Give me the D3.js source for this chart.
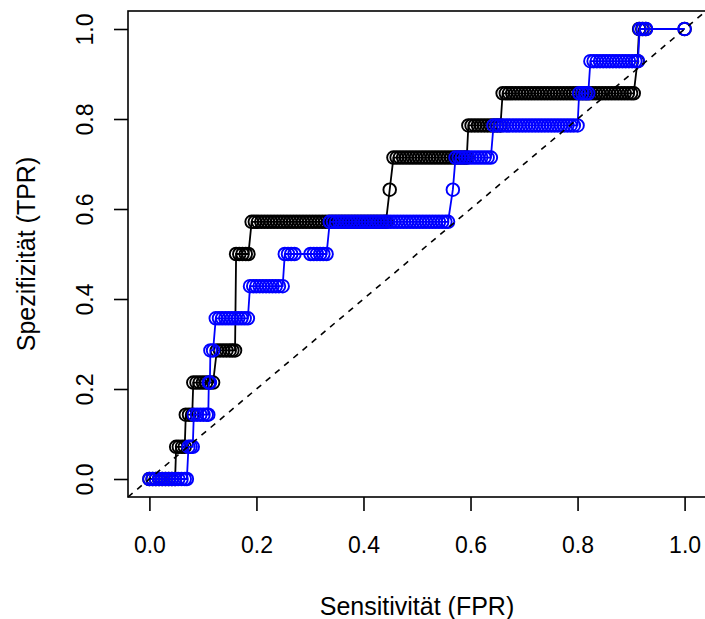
<!DOCTYPE html>
<html>
<head>
<meta charset="utf-8">
<script src="https://cdn.jsdelivr.net/npm/d3@7"></script>
<style>
  body { margin: 0; background: #fff; }
  text { font-family: "Liberation Sans", Arial, sans-serif; }
</style>
</head>
<body>
<div id="roc"></div>
<script>
var w = 705;
var h = 619;

// TPR levels (14 positives)
var tprSteps = [0, 0.0714, 0.1429, 0.2143, 0.2857, 0.3571, 0.4286, 0.5,
                0.5714, 0.6429, 0.7143, 0.7857, 0.8571, 0.9286, 1];

// FPR values of the points, one list per TPR level
var fprBlack = [
  [0, 0.006, 0.012, 0.018, 0.024, 0.03, 0.036, 0.042, 0.048],
  [0.05, 0.055, 0.061, 0.066],
  [0.068, 0.074, 0.08],
  [0.082, 0.088, 0.094, 0.1, 0.106, 0.112, 0.119],
  [0.126, 0.132, 0.138, 0.144, 0.15, 0.155, 0.16],
  [],
  [],
  [0.162, 0.168, 0.174, 0.18, 0.185],
  [0.191, 0.197, 0.203, 0.209, 0.215, 0.221, 0.227, 0.233, 0.239, 0.245,
   0.251, 0.257, 0.263, 0.269, 0.275, 0.281, 0.287, 0.293, 0.299, 0.305,
   0.311, 0.317, 0.323, 0.329, 0.335, 0.341, 0.347, 0.353, 0.359, 0.365,
   0.371, 0.377, 0.383, 0.389, 0.395, 0.401, 0.407, 0.413, 0.419, 0.425,
   0.431, 0.437, 0.442],
  [0.449],
  [0.456, 0.462, 0.468, 0.474, 0.48, 0.486, 0.492, 0.498, 0.504, 0.51,
   0.516, 0.522, 0.528, 0.534, 0.54, 0.546, 0.552, 0.558, 0.564, 0.57,
   0.576, 0.582, 0.588, 0.593],
  [0.596, 0.602, 0.608, 0.614, 0.62, 0.626, 0.632, 0.638, 0.644, 0.65, 0.656],
  [0.66, 0.666, 0.672, 0.678, 0.684, 0.69, 0.696, 0.702, 0.708, 0.714,
   0.72, 0.726, 0.732, 0.738, 0.744, 0.75, 0.756, 0.762, 0.768, 0.774,
   0.78, 0.786, 0.792, 0.798, 0.804, 0.81, 0.816, 0.822, 0.828, 0.834,
   0.84, 0.846, 0.852, 0.858, 0.864, 0.87, 0.876, 0.882, 0.888, 0.894,
   0.9, 0.905],
  [0.912],
  [0.915, 0.921, 0.927, 1]
];

var fprBlue = [
  [0, 0.006, 0.012, 0.018, 0.024, 0.03, 0.036, 0.042, 0.048, 0.054,
   0.06, 0.066, 0.07],
  [0.073, 0.077, 0.081],
  [0.083, 0.089, 0.095, 0.101, 0.107, 0.11],
  [0.111, 0.113],
  [0.114, 0.119],
  [0.124, 0.13, 0.136, 0.142, 0.148, 0.154, 0.16, 0.166, 0.172, 0.178, 0.184],
  [0.188, 0.194, 0.2, 0.206, 0.212, 0.218, 0.224, 0.23, 0.236, 0.242, 0.249],
  [0.253, 0.259, 0.265, 0.271, 0.301, 0.307, 0.313, 0.319, 0.325, 0.331],
  [0.337, 0.343, 0.349, 0.355, 0.361, 0.367, 0.373, 0.379, 0.385, 0.391,
   0.397, 0.403, 0.409, 0.415, 0.421, 0.427, 0.433, 0.439, 0.445, 0.451,
   0.457, 0.463, 0.469, 0.475, 0.481, 0.487, 0.493, 0.499, 0.505, 0.511,
   0.517, 0.523, 0.529, 0.535, 0.541, 0.547, 0.553, 0.558],
  [0.567],
  [0.572, 0.578, 0.584, 0.59, 0.596, 0.602, 0.608, 0.614, 0.62, 0.626,
   0.632, 0.638],
  [0.643, 0.649, 0.655, 0.661, 0.667, 0.673, 0.679, 0.685, 0.691, 0.697,
   0.703, 0.709, 0.715, 0.721, 0.727, 0.733, 0.739, 0.745, 0.751, 0.757,
   0.763, 0.769, 0.775, 0.781, 0.787, 0.793, 0.8],
  [0.803, 0.809, 0.815, 0.82],
  [0.824, 0.83, 0.836, 0.842, 0.848, 0.854, 0.86, 0.866, 0.872, 0.878,
   0.884, 0.89, 0.896, 0.902, 0.908, 0.913],
  [0.916, 0.922, 0.928, 1]
];

var tickValues = [0, 0.2, 0.4, 0.6, 0.8, 1];
var xLabel = "Sensitivität (FPR)";
var yLabel = "Spezifizität (TPR)";

// plot region (R style box, 4% padding on both axes)
var box = { left: 128, right: 706, top: 11, bottom: 497 };

var xScale = d3.scaleLinear()
        .domain([-0.04, 1.04])
        .range([box.left, box.right]);

var yScale = d3.scaleLinear()
        .domain([-0.04, 1.04])
        .range([box.bottom, box.top]);

function toPoints(fprs) {
  var pts = [];
  fprs.forEach(function(list, i) {
    list.forEach(function(f) { pts.push([f, tprSteps[i]]); });
  });
  return pts;
}

var svg = d3.select("#roc")
      .append("svg")
      .attr("width", w)
      .attr("height", h);

svg.append("rect")
   .attr("width", w)
   .attr("height", h)
   .attr("fill", "#fff");

var fontSize = 23;
var titleSize = 25;

// x axis
var xAxis = svg.append("g")
   .attr("transform", "translate(0," + box.bottom + ")")
   .call(d3.axisBottom(xScale)
          .tickValues(tickValues)
          .tickSize(14)
          .tickFormat(d3.format(".1f")));
xAxis.select(".domain").remove();
xAxis.selectAll("line").attr("stroke", "#000").attr("stroke-width", 1.6);
xAxis.selectAll("text")
   .attr("font-size", fontSize)
   .attr("font-family", "'Liberation Sans', Arial, sans-serif")
   .attr("fill", "#000")
   .attr("dy", null)
   .attr("y", 56);

// y axis
var yAxis = svg.append("g")
   .attr("transform", "translate(" + box.left + ",0)")
   .call(d3.axisLeft(yScale)
          .tickValues(tickValues)
          .tickSize(14)
          .tickFormat(d3.format(".1f")));
yAxis.select(".domain").remove();
yAxis.selectAll("line").attr("stroke", "#000").attr("stroke-width", 1.6);
yAxis.selectAll("text")
   .attr("font-size", fontSize)
   .attr("font-family", "'Liberation Sans', Arial, sans-serif")
   .attr("fill", "#000")
   .attr("x", null)
   .attr("dy", null)
   .attr("text-anchor", "middle")
   .attr("transform", "translate(-35,0) rotate(-90)");

// axis titles
svg.append("text")
   .attr("x", (box.left + box.right) / 2)
   .attr("y", 615)
   .attr("text-anchor", "middle")
   .attr("font-size", titleSize)
   .text(xLabel);

svg.append("text")
   .attr("transform", "translate(35," + ((box.top + box.bottom) / 2) + ") rotate(-90)")
   .attr("text-anchor", "middle")
   .attr("font-size", titleSize)
   .text(yLabel);

// curves
var line = d3.line()
      .x(function(d) { return xScale(d[0]); })
      .y(function(d) { return yScale(d[1]); });

function drawSeries(fprs, colour) {
  var pts = toPoints(fprs);
  svg.append("path")
     .datum(pts)
     .attr("d", line)
     .attr("fill", "none")
     .attr("stroke", colour)
     .attr("stroke-width", 1.8);
  svg.append("g")
     .selectAll("circle")
     .data(pts)
     .enter()
     .append("circle")
     .attr("cx", function(d) { return xScale(d[0]); })
     .attr("cy", function(d) { return yScale(d[1]); })
     .attr("r", 6.3)
     .attr("fill", "none")
     .attr("stroke", colour)
     .attr("stroke-width", 1.9);
}

drawSeries(fprBlack, "#000");
drawSeries(fprBlue, "#0000ff");

// diagonal reference line
svg.append("line")
   .attr("x1", xScale(-0.04))
   .attr("y1", yScale(-0.04))
   .attr("x2", xScale(1.04))
   .attr("y2", yScale(1.04))
   .attr("stroke", "#000")
   .attr("stroke-width", 1.6)
   .attr("stroke-dasharray", "6,6");

// box
svg.append("rect")
   .attr("x", box.left)
   .attr("y", box.top)
   .attr("width", box.right - box.left)
   .attr("height", box.bottom - box.top)
   .attr("fill", "none")
   .attr("stroke", "#000")
   .attr("stroke-width", 1.6);
</script>
</body>
</html>
